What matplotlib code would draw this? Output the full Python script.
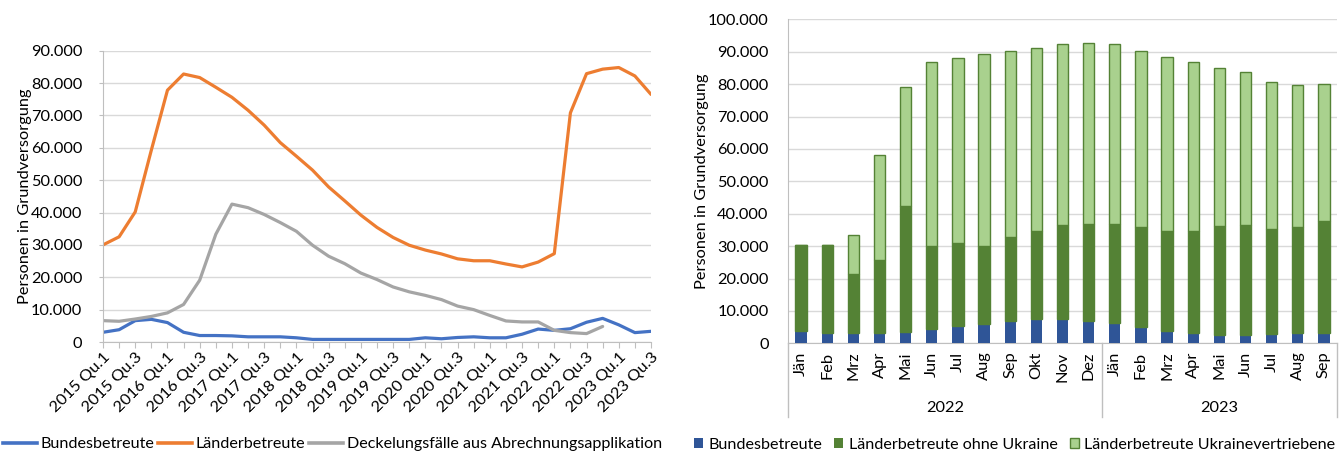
import matplotlib
matplotlib.use("Agg")
import matplotlib.pyplot as plt
import matplotlib.transforms as mtransforms
from matplotlib.lines import Line2D
from matplotlib.patches import Patch
from matplotlib.ticker import FuncFormatter

plt.rcParams["font.family"] = ["Lato", "DejaVu Sans"]

# ---- quarterly series 2015 Qu.1 .. 2023 Qu.3 ----
quarters = [f"{y} Qu.{q}" for y in range(2015, 2024) for q in range(1, 5)][:35]
bundes_q = [3000, 3800, 6600, 7000, 6000, 3000, 2000, 2000, 1900, 1600, 1600, 1600,
            1300, 800, 800, 800, 800, 800, 800, 800, 1300, 1000, 1400, 1600, 1300,
            1300, 2400, 4000, 3600, 4100, 6100, 7300, 5300, 2900, 3300]
laender_q = [30000, 32500, 40200, 59300, 77800, 82800, 81700, 78700, 75600, 71600,
             67000, 61600, 57400, 53100, 47900, 43600, 39200, 35400, 32300, 29900,
             28400, 27200, 25700, 25100, 25100, 24100, 23200, 24700, 27300, 70800,
             82900, 84300, 84800, 82200, 76500]
deckel_q = [6600, 6400, 7100, 7900, 9000, 11600, 19100, 33300, 42600, 41500, 39400,
            36900, 34200, 29900, 26500, 24200, 21300, 19300, 17000, 15500, 14400,
            13100, 11100, 10000, 8200, 6500, 6200, 6200, 3600, 2900, 2600, 4800]

# ---- monthly stacked values Jän 2022 .. Sep 2023 ----
months = ["Jän", "Feb", "Mrz", "Apr", "Mai", "Jun", "Jul", "Aug", "Sep", "Okt", "Nov", "Dez",
          "Jän", "Feb", "Mrz", "Apr", "Mai", "Jun", "Jul", "Aug", "Sep"]
years = ["2022", "2023"]
bundes_m = [3800, 3300, 3300, 3300, 3600, 4400, 5200, 6000, 6900, 7600, 7400, 6900,
            6400, 4900, 3800, 3100, 2600, 2600, 2900, 3100, 3300]
laender_ohne_ukr = [26500, 27000, 18100, 22400, 38900, 25700, 25700, 23900, 25900, 27000,
                    29000, 29900, 30400, 31000, 31000, 31500, 33600, 33800, 32300, 32800, 34500]
laender_ukr = [0, 0, 12000, 32300, 36500, 56600, 57300, 59500, 57500, 56400, 56100, 56000,
               55700, 54400, 53600, 52100, 48800, 47300, 45500, 43700, 42100]

C_BLUE_L, C_ORANGE, C_GREY = "#4472C4", "#ED7D31", "#A5A5A5"
C_BLUE_B, C_DGREEN, C_LGREEN = "#2F5597", "#548235", "#A9D18E"
GRID, AXIS = "#D9D9D9", "#BFBFBF"
FS = 11.8
FS_LEG = 11.6

W, H = 1343, 454
fig = plt.figure(figsize=(W / 100, H / 100), dpi=100)


def box(x0, y0, x1, y1):
    return [x0 / W, 1 - y1 / H, (x1 - x0) / W, (y1 - y0) / H]


def thousands(v, _pos=None):
    return f"{v:,.0f}".replace(",", ".")


# ---------------- left: line chart ----------------
ax1 = fig.add_axes(box(103, 50.7, 651, 342))
x_q = list(range(len(quarters)))
ax1.plot(x_q, bundes_q, color=C_BLUE_L, lw=2.3, solid_capstyle="round")
ax1.plot(x_q, laender_q, color=C_ORANGE, lw=2.3, solid_capstyle="round")
ax1.plot(x_q[:len(deckel_q)], deckel_q, color=C_GREY, lw=2.3, solid_capstyle="round")
ax1.set_xlim(0, len(quarters) - 1)
ax1.set_ylim(0, 90000)
ax1.set_yticks(range(0, 90001, 10000))
ax1.yaxis.set_major_formatter(FuncFormatter(thousands))
ax1.set_xticks(x_q)
ax1.set_xticklabels([q if i % 2 == 0 else "" for i, q in enumerate(quarters)],
                    rotation=45, ha="right", rotation_mode="anchor")
ax1.grid(axis="y", color=GRID, lw=1)
ax1.set_axisbelow(True)
for s in ("top", "right"):
    ax1.spines[s].set_visible(False)
for s in ("left", "bottom"):
    ax1.spines[s].set_color(AXIS)
ax1.tick_params(axis="y", length=3, color=AXIS, labelsize=FS, pad=12)
ax1.tick_params(axis="x", length=4, color=AXIS, labelsize=FS, pad=2)
ax1.set_ylabel("Personen in Grundversorgung", fontsize=FS, labelpad=-1)

fig.legend(handles=[Line2D([], [], color=C_BLUE_L, lw=2.6),
                    Line2D([], [], color=C_ORANGE, lw=2.6),
                    Line2D([], [], color=C_GREY, lw=2.6)],
           labels=["Bundesbetreute", "Länderbetreute",
                   "Deckelungsfälle aus Abrechnungsapplikation"],
           loc="center left", bbox_to_anchor=(3 / W, 1 - 444 / H), ncol=3,
           frameon=False, fontsize=FS_LEG, handlelength=2.1, handletextpad=0.25,
           columnspacing=0.2, borderpad=0, borderaxespad=0)

# ---------------- right: stacked bars ----------------
ax2 = fig.add_axes(box(788, 19.3, 1337, 343.3))
x_m = list(range(len(months)))
bottom2 = [a + b for a, b in zip(bundes_m, laender_ohne_ukr)]
ax2.bar(x_m, bundes_m, width=0.43, color=C_BLUE_B, zorder=3)
ax2.bar(x_m, laender_ohne_ukr, width=0.43, bottom=bundes_m, color=C_DGREEN,
        edgecolor=C_DGREEN, lw=1, zorder=3)
ax2.bar(x_m, laender_ukr, width=0.43, bottom=bottom2, color=C_LGREEN,
        edgecolor=C_DGREEN, lw=1, zorder=3)
ax2.set_xlim(-0.5, len(months) - 0.5)
ax2.set_ylim(0, 100000)
ax2.set_yticks(range(0, 100001, 10000))
ax2.yaxis.set_major_formatter(FuncFormatter(thousands))
ax2.set_xticks(x_m)
ax2.set_xticklabels(months, rotation=90, va="top", ha="center")
ax2.grid(axis="y", color=GRID, lw=1)
ax2.set_axisbelow(True)
for s in ("top", "right"):
    ax2.spines[s].set_visible(False)
for s in ("left", "bottom"):
    ax2.spines[s].set_color(AXIS)
ax2.tick_params(axis="y", length=0, labelsize=FS, pad=14)
ax2.tick_params(axis="x", length=0, labelsize=FS, pad=6)
ax2.set_ylabel("Personen in Grundversorgung", fontsize=FS, labelpad=-1)

# year grouping below the month labels
trans = mtransforms.blended_transform_factory(ax2.transData, ax2.transAxes)
depth = (417 - 343.3) / (343.3 - 19.3)
text_y = -(408 - 343.3) / (343.3 - 19.3)
for xs in (-0.5, 11.5, len(months) - 0.5):
    ax2.plot([xs, xs], [0, -depth], color=AXIS, lw=1, transform=trans, clip_on=False)
ax2.text(5.5, text_y, years[0], transform=trans, ha="center", va="center", fontsize=FS)
ax2.text(16.0, text_y, years[1], transform=trans, ha="center", va="center", fontsize=FS)

fig.legend(handles=[Patch(facecolor=C_BLUE_B),
                    Patch(facecolor=C_DGREEN),
                    Patch(facecolor=C_LGREEN, edgecolor=C_DGREEN, lw=1)],
           labels=["Bundesbetreute", "Länderbetreute ohne Ukraine",
                   "Länderbetreute Ukrainevertriebene"],
           loc="center left", bbox_to_anchor=(694 / W, 1 - 445 / H), ncol=3,
           frameon=False, fontsize=FS_LEG, handlelength=0.55, handleheight=0.55,
           handletextpad=0.35, columnspacing=0.75, borderpad=0, borderaxespad=0)

fig.savefig("out.png", dpi=100)
